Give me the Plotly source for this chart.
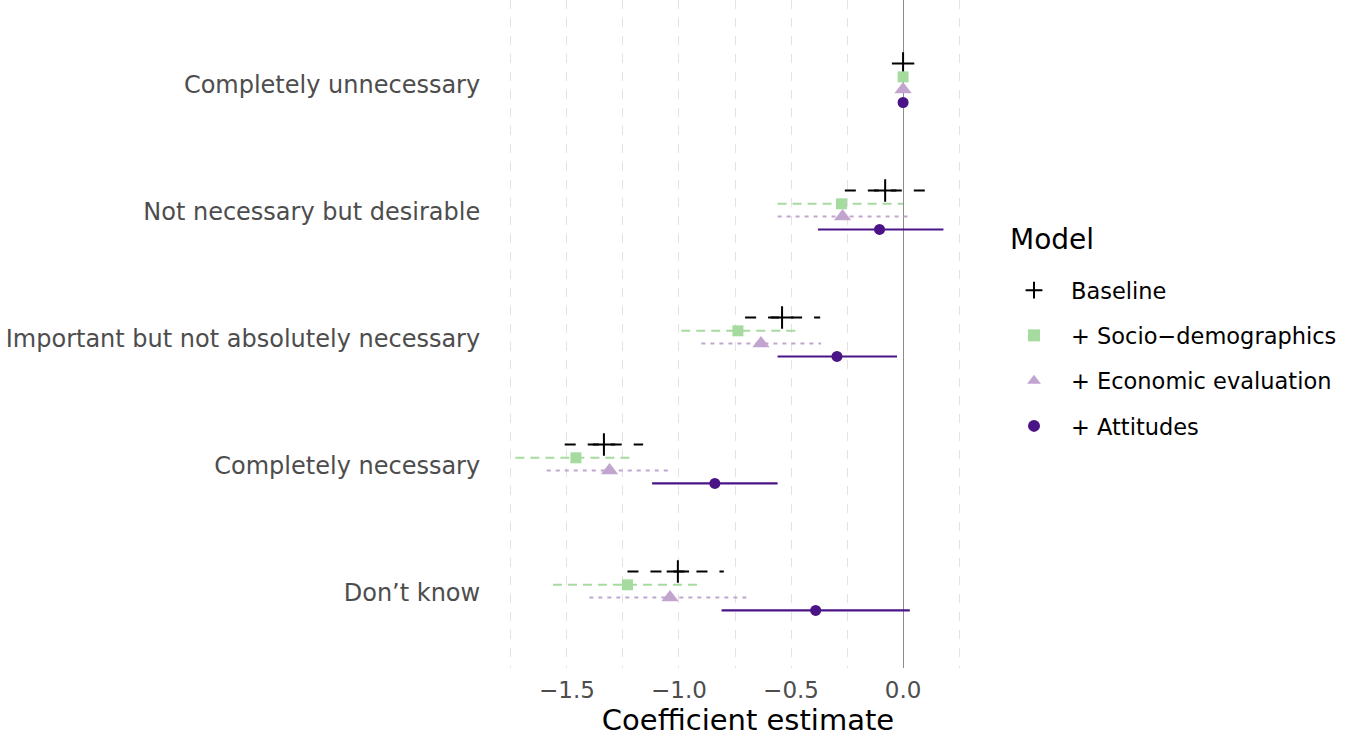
import plotly.graph_objects as go

categories = ["Completely unnecessary", "Not necessary but desirable",
              "Important but not absolutely necessary", "Completely necessary", "Don\u2019t know"]
cat_pos = [5, 4, 3, 2, 1]

models = ["Baseline", "+ Socio\u2212demographics", "+ Economic evaluation", "+ Attitudes"]

est = {
    "Baseline":              [0.0, -0.08, -0.54, -1.335, -1.005],
    "+ Socio\u2212demographics": [0.0, -0.275, -0.737, -1.46, -1.23],
    "+ Economic evaluation": [0.0, -0.27, -0.634, -1.31, -1.04],
    "+ Attitudes":           [0.0, -0.105, -0.295, -0.84, -0.39],
}
lo = {
    "Baseline":              [None, -0.26, -0.705, -1.51, -1.23],
    "+ Socio\u2212demographics": [None, -0.56, -0.99, -1.73, -1.5625],
    "+ Economic evaluation": [None, -0.56, -0.90, -1.59, -1.40],
    "+ Attitudes":           [None, -0.38, -0.56, -1.12, -0.81],
}
hi = {
    "Baseline":              [None, 0.098, -0.37, -1.16, -0.80],
    "+ Socio\u2212demographics": [None, 0.0, -0.48, -1.21, -0.897],
    "+ Economic evaluation": [None, 0.02, -0.366, -1.03, -0.68],
    "+ Attitudes":           [None, 0.18, -0.027, -0.56, 0.03],
}

offsets = [0.17, 0.065, -0.035, -0.137]
colors = ["#000000", "#a6dba0", "#c2a5cf", "#4a1486"]
dashes = ["11px,12px", "9px,6px", "4px,5px", "solid"]
symbols = ["cross-thin", "square", "triangle-up", "circle"]
sizes = [16, 11, 15, 11]

FONT = "DejaVu Sans"
W, H = 1355, 737
L, R, T, B = 494, 353, 0, 69
pw = W - L - R
ph = H - T - B

fig = go.Figure()

for i, m in enumerate(models):
    xs, ys = [], []
    for j, p in enumerate(cat_pos):
        if lo[m][j] is None:
            continue
        xs += [lo[m][j], hi[m][j], None]
        ys += [p + offsets[i], p + offsets[i], None]
    fig.add_trace(go.Scatter(x=xs, y=ys, mode="lines", showlegend=False, hoverinfo="skip",
                             line=dict(color=colors[i], width=2.2 if i == 3 else 2, dash=dashes[i])))

for i, m in enumerate(models):
    marker = dict(color=colors[i], size=sizes[i], symbol=symbols[i])
    if symbols[i] == "cross-thin":
        marker["line"] = dict(color=colors[i], width=2)
    fig.add_trace(go.Scatter(x=est[m], y=[p + offsets[i] for p in cat_pos], mode="markers",
                             name=m, marker=marker, legendgroup=m))

fig.add_annotation(text="Model", xref="paper", yref="paper",
                   x=(1008 - L) / pw, y=1 - (240 - T) / ph, xanchor="left", yanchor="middle",
                   showarrow=False, font=dict(size=28, color="#000000", family=FONT))

fig.update_layout(
    width=W, height=H,
    paper_bgcolor="white", plot_bgcolor="white",
    margin=dict(l=L, r=R, t=T, b=B, autoexpand=False),
    font=dict(family=FONT, color="#000000"),
    xaxis=dict(range=[-1.8255, 0.4414], tickvals=[-1.5, -1.0, -0.5, 0.0],
               ticktext=["\u22121.5", "\u22121.0", "\u22120.5", "0.0"],
               tickfont=dict(size=23, color="#4d4d4d"), automargin=False,
               showgrid=True, gridcolor="#e3e3e3", gridwidth=1.4, griddash="dash",
               minor=dict(dtick=0.25, tick0=0, showgrid=True, gridcolor="#e3e3e3", gridwidth=1.4, griddash="dash"),
               zeroline=True, zerolinecolor="#8c8c8c", zerolinewidth=1.2,
               ticks="outside", ticklen=1, tickcolor="rgba(0,0,0,0)",
               title=dict(text="Coefficient estimate", font=dict(size=29, color="#000000"), standoff=0),
               showline=False),
    yaxis=dict(range=[0.41, 5.67], tickvals=cat_pos, ticktext=categories, automargin=False,
               tickfont=dict(size=24, color="#4d4d4d"), showgrid=False, zeroline=False,
               ticks="outside", ticklen=8, tickcolor="rgba(0,0,0,0)", showline=False),
    legend=dict(x=(997 - L) / pw, xanchor="left", y=1 - (269 - T) / ph, yanchor="top",
                font=dict(size=22.5, color="#000000"), tracegroupgap=13,
                traceorder="grouped", itemsizing="constant", itemwidth=64),
)

fig.write_html("out.html", config={"displayModeBar": False},
               post_script="document.body.style.margin='0';")
